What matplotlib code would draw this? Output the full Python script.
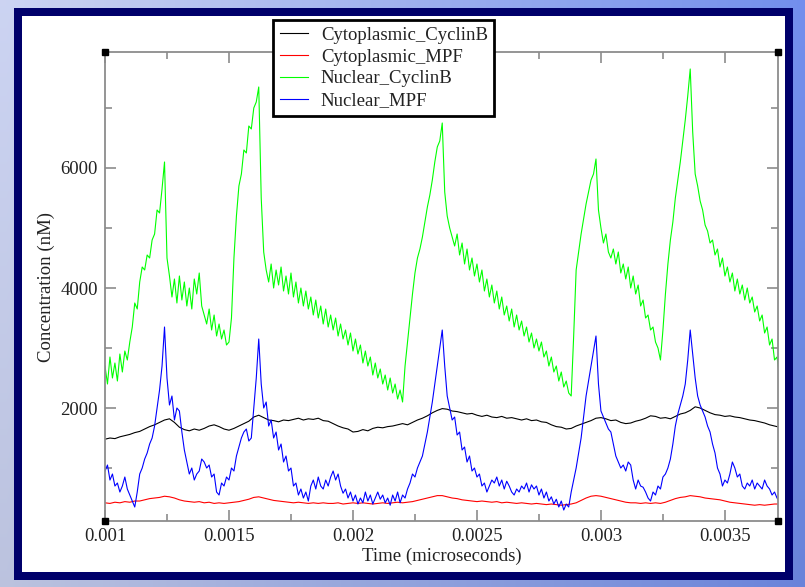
import numpy as np
import matplotlib
matplotlib.use("Agg")
import matplotlib.pyplot as plt
from matplotlib.patches import Rectangle
from matplotlib.ticker import FixedLocator, MultipleLocator, FuncFormatter

# ---------------- data ----------------
nuclear_cyclinb = [
    2700, 2400, 2850, 2500, 2750, 2450, 2900, 2600, 2950, 2800,
    3100, 3350, 3750, 3650, 4100, 4350, 4300, 4550, 4500, 4800, 4900, 5300, 5250, 5650, 6100,
    4500, 4200,
    3850, 4150, 3750, 4200, 3800, 4100, 3700, 4000, 3650, 4150, 3900, 4250, 3700, 3550,
    3400, 3650, 3300, 3550, 3200, 3400, 3150, 3300, 3050, 3100,
    3500, 4500, 5200, 5700, 5900, 6300, 6250, 6700, 6650, 7000, 7100, 7350,
    5500, 4600, 4300,
    4100, 4400, 4000, 4300, 4050, 4350, 3950, 4200, 3900, 4250, 3850, 4100, 3750, 4000,
    3700, 3950, 3650, 3850, 3550, 3800, 3500, 3700, 3400, 3650, 3350, 3550, 3300, 3500,
    3200, 3400, 3150, 3300, 3050, 3250, 2950, 3150, 2900, 3050, 2750, 2950, 2700, 2850,
    2550, 2750, 2500, 2650, 2400, 2550, 2300, 2500, 2250, 2400, 2150, 2300, 2100,
    2700, 3100, 3500, 3900, 4250, 4500, 4650, 4850, 5100, 5350, 5550, 5800, 6100, 6350,
    6450, 6750,
    5600, 5200, 5000,
    4850, 4700, 4900, 4550, 4750, 4400, 4650, 4300, 4500, 4200, 4400, 4100, 4300, 3950,
    4150, 3850, 4050, 3750, 3950, 3650, 3850, 3550, 3700, 3450, 3650, 3350, 3550, 3300,
    3450, 3200, 3350, 3100, 3250, 3000, 3150, 2950, 3100, 2850, 2950, 2700, 2850, 2600,
    2700, 2450, 2600, 2350, 2450, 2250, 2200,
    3200, 4300, 4600, 4900, 5150, 5400, 5600, 5800, 5900, 6150,
    5300, 5000,
    4750, 4900, 4600, 4500, 4650, 4400, 4600, 4250, 4400, 4150, 4350, 4000, 4200, 3900,
    4050, 3700, 3800, 3500, 3550, 3300, 3350, 3100, 3000, 2800,
    3300, 3900, 4400, 4800, 5100, 5500, 5800, 6100, 6450, 6800, 7200, 7650,
    6600, 5900,
    5700, 5450, 5300, 5050, 4950, 4750, 4800, 4550, 4650, 4350, 4500, 4200, 4350, 4100,
    4250, 3950, 4150, 3900, 4050, 3800, 4000, 3750, 3850, 3600, 3700, 3450, 3550, 3250,
    3350, 3050, 3150, 2800, 2850, 2550,
]

nuclear_mpf = [
    950, 1050, 800, 900, 700, 750, 600, 700, 850, 650, 550, 450, 350,
    600, 900, 1000, 1150, 1250, 1400, 1500, 1700, 2000, 2300, 2700, 3350,
    2500, 2050, 2200, 1800, 2000, 1950, 1600, 1300, 1100, 900, 1000, 800, 900, 950,
    1150, 1100, 1000, 1050, 850, 900, 600, 550, 750, 700, 850, 800,
    1000, 950, 1200, 1350, 1500, 1600, 1650, 1450, 1500, 2000, 2500, 3150,
    2400, 2000, 2100, 1700, 1800, 1500, 1600, 1300, 1400, 1100, 1200, 950, 1000, 700,
    750, 550, 650, 500, 600, 450, 700, 800, 650, 850, 700, 650, 800, 700, 850, 950,
    800, 900, 700, 580, 650, 500, 600, 450, 550, 400, 500, 420, 600, 450, 550, 400,
    500, 600, 480, 550, 420, 500, 380, 550, 450, 600, 420, 550,
    500, 650, 750, 900, 850, 1000, 1100, 1200, 1400, 1600, 1850, 2100, 2400, 2700,
    3000, 3300,
    2700, 2200, 2000, 1800, 1850, 1550, 1600, 1300, 1350, 1100, 1200, 950, 1000, 850,
    900, 700, 750, 600, 700, 800, 750, 850, 700, 800, 650, 780, 700, 600, 550, 650,
    600, 700, 650, 750, 600, 720, 650, 700, 550, 650, 500, 600, 450, 520, 400, 480,
    350, 450, 300, 400, 350, 600,
    800, 1000, 1250, 1500, 1850, 2200, 2450, 2700, 2950, 3200,
    2400, 1950, 1850, 1750, 1650, 1600, 1400, 1200, 1100, 1000, 1050, 950, 1100, 1050,
    800, 650, 800, 700, 680, 600, 500, 450, 600, 550, 700, 650,
    850, 900, 1000, 1150, 1400, 1700, 1900, 2050, 2200, 2400, 2800, 3300,
    2900, 2500, 2200, 2050, 1950, 1850, 1700, 1600, 1400, 1250, 1000, 900, 700, 800,
    750, 900, 1100, 1000, 850, 900, 700, 650, 750, 700, 800, 650, 750, 700, 650, 800,
    700, 650, 550, 600, 500, 450,
]

cytoplasmic_cyclinb = [
    1480, 1500, 1490, 1520, 1540, 1560, 1590, 1610, 1650, 1690, 1720, 1760, 1800,
    1820, 1760, 1680, 1640, 1620, 1650, 1630, 1660, 1700, 1720, 1690, 1650, 1630,
    1660, 1700, 1740, 1780, 1850, 1880,
    1840, 1800, 1790, 1770, 1800, 1790, 1810, 1830, 1800, 1820, 1810, 1830, 1790,
    1780, 1740, 1700, 1670, 1650, 1600, 1610, 1640, 1620, 1660, 1680, 1670, 1690,
    1700, 1720, 1740,
    1720, 1760, 1800, 1830, 1870, 1920, 1960, 1990,
    1980, 1950, 1940, 1920, 1900, 1910, 1880, 1860, 1880, 1850, 1840, 1860, 1830,
    1840, 1820, 1800, 1820, 1790, 1800, 1770, 1760, 1720, 1690, 1680, 1650, 1660,
    1700, 1730, 1760, 1790, 1830,
    1840, 1820, 1790, 1800, 1760, 1740, 1750, 1780, 1800, 1830, 1870, 1860, 1830,
    1840, 1820, 1860, 1900, 1920, 1960,
    2020, 2000, 1960, 1920, 1890, 1880, 1860, 1870, 1850, 1840, 1820, 1800, 1790,
    1770, 1750, 1720, 1700, 1680,
]

cytoplasmic_mpf = [
    420, 410, 430, 420, 440, 430, 450, 450, 470, 490, 500, 510, 530,
    520, 500, 470, 450, 440, 430, 440, 420, 430, 410, 420, 410, 420,
    430, 440, 460, 480, 510, 520,
    500, 480, 460, 450, 440, 430, 420, 430, 420, 410, 420, 410, 420,
    410, 410, 420, 400, 410, 420, 410, 420, 410, 400, 410, 420, 410,
    420, 430, 420,
    430, 440, 460, 480, 500, 520, 540, 540,
    520, 500, 490, 470, 460, 450, 440, 450, 440, 430, 440, 420, 430,
    420, 410, 420, 410, 400, 410, 400, 390, 400, 390, 380, 390, 400,
    420, 460, 500, 530, 540,
    530, 510, 490, 470, 450, 430, 420, 420, 410, 420, 410, 420, 410,
    430, 460, 490, 510, 520, 540,
    530, 520, 500, 490, 480, 470, 450, 430, 420, 410, 400, 390, 380,
    390, 380, 390, 400, 400,
]

# sample times (fine grid for nuclear series, coarse grid for cytoplasmic series)
time_fine = np.round(0.001 + 0.00001 * np.arange(len(nuclear_cyclinb)), 8)
time_coarse = np.round(0.001 + 0.00002 * np.arange(len(cytoplasmic_cyclinb)), 8)

series_labels = ["Cytoplasmic_CyclinB", "Cytoplasmic_MPF", "Nuclear_CyclinB", "Nuclear_MPF"]
x_ticks = [0.001, 0.0015, 0.002, 0.0025, 0.003, 0.0035]
y_ticks = [2000, 4000, 6000]

# ---------------- figure ----------------
W, H = 805, 587
fig = plt.figure(figsize=(W / 100, H / 100), dpi=100)

# slide-like background
bg = fig.add_axes([0, 0, 1, 1], zorder=-10)
gx = np.linspace(0, 1, 64)[None, :]
gy = np.linspace(0, 1, 48)[:, None]
c_left = np.array([0.80, 0.83, 0.95])
c_right = np.array([0.45, 0.56, 0.93])
grad = (1 - gx)[..., None] * c_left + gx[..., None] * c_right
grad = grad * (1 - 0.08 * gy[..., None])
bg.imshow(np.clip(grad, 0, 1), aspect="auto", extent=[0, 1, 0, 1], interpolation="bilinear")
bg.set_axis_off()
bg.add_patch(Rectangle((14 / W, 1 - 580 / H), (793 - 14) / W, (580 - 8) / H,
                       transform=fig.transFigure, facecolor="#00006b", edgecolor="none"))
bg.add_patch(Rectangle((22 / W, 1 - 572 / H), (785 - 22) / W, (572 - 16) / H,
                       transform=fig.transFigure, facecolor="white", edgecolor="none"))

ax = fig.add_axes([105 / W, 1 - 521 / H, (778 - 105) / W, (521 - 52) / H])
ax.set_facecolor("white")

serif = ["Liberation Serif", "DejaVu Serif"]
fs = 13.5

lw = 0.8
ax.plot(time_coarse, cytoplasmic_cyclinb, color="black", lw=lw, label=series_labels[0])
ax.plot(time_coarse, cytoplasmic_mpf, color="#ff0000", lw=lw, label=series_labels[1])
ax.plot(time_fine, nuclear_cyclinb, color="#00ff00", lw=lw, label=series_labels[2])
ax.plot(time_fine, nuclear_mpf, color="#0000ff", lw=lw, label=series_labels[3])

ax.set_xlim(0.001, 0.003714)
ax.set_ylim(117, 7933)

ax.xaxis.set_major_locator(FixedLocator(x_ticks))
ax.xaxis.set_minor_locator(MultipleLocator(0.00025))
ax.yaxis.set_major_locator(FixedLocator(y_ticks))
ax.yaxis.set_minor_locator(MultipleLocator(1000))
ax.xaxis.set_major_formatter(FuncFormatter(lambda v, p: f"{v:g}"))
ax.yaxis.set_major_formatter(FuncFormatter(lambda v, p: f"{v:g}"))

spine_c = "#8c8c8c"
for s in ax.spines.values():
    s.set_color(spine_c)
    s.set_linewidth(1.3)
ax.tick_params(which="both", direction="in", top=True, right=True, color=spine_c, width=1.2)
ax.tick_params(which="major", length=8, pad=5)
ax.tick_params(which="minor", length=5)
for lab in ax.get_xticklabels() + ax.get_yticklabels():
    lab.set_fontfamily(serif)
    lab.set_fontsize(fs)
    lab.set_color("#222222")

ax.set_xlabel("Time (microseconds)", fontfamily=serif, fontsize=fs, color="#222222", labelpad=2)
ax.set_ylabel("Concentration (nM)", fontfamily=serif, fontsize=fs, color="#222222", labelpad=4)

# corner squares
ax.plot([0, 1, 0, 1], [0, 0, 1, 1], ls="none", marker="s", ms=4.5, color="black",
        transform=ax.transAxes, clip_on=False, zorder=5)

leg = ax.legend(loc="upper left", bbox_to_anchor=(273 / W, 1 - 20 / H),
                bbox_transform=fig.transFigure, frameon=True, fancybox=False,
                edgecolor="black", framealpha=1, borderaxespad=0,
                prop={"family": serif, "size": fs}, handlelength=1.5,
                handletextpad=0.7, labelspacing=0.25, borderpad=0.35)
leg.get_frame().set_linewidth(2)
for t in leg.get_texts():
    t.set_color("#222222")
leg.set_zorder(10)

fig.savefig("out.png", dpi=100)
